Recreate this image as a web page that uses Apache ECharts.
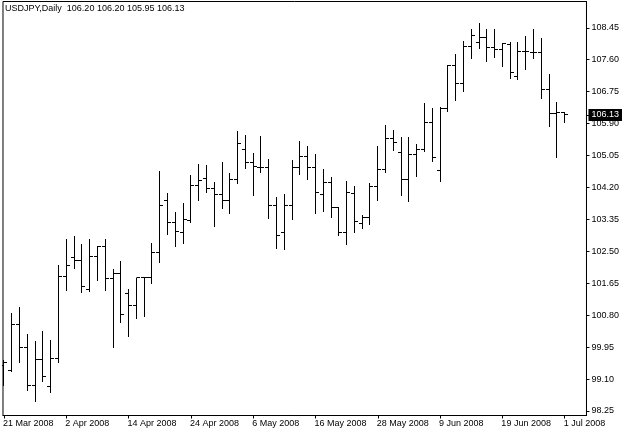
<!DOCTYPE html>
<html>
<head>
<meta charset="utf-8">
<script src="https://cdn.jsdelivr.net/npm/echarts@6/dist/echarts.min.js"></script>
<style>
html,body{margin:0;padding:0;background:#fff;}
#chart{width:625px;height:433px;}
</style>
</head>
<body>
<div id="chart"></div>
<script>
const symbolTitle = 'USDJPY,Daily';
const dates = [
 '21 Mar 2008','24 Mar 2008','25 Mar 2008','26 Mar 2008','27 Mar 2008','28 Mar 2008','31 Mar 2008',
 '1 Apr 2008','2 Apr 2008','3 Apr 2008','4 Apr 2008','7 Apr 2008','8 Apr 2008','9 Apr 2008','10 Apr 2008','11 Apr 2008',
 '14 Apr 2008','15 Apr 2008','16 Apr 2008','17 Apr 2008','18 Apr 2008','21 Apr 2008','22 Apr 2008','23 Apr 2008',
 '24 Apr 2008','25 Apr 2008','28 Apr 2008','29 Apr 2008','30 Apr 2008',
 '1 May 2008','2 May 2008','5 May 2008','6 May 2008','7 May 2008','8 May 2008','9 May 2008','12 May 2008','13 May 2008',
 '14 May 2008','15 May 2008','16 May 2008','19 May 2008','20 May 2008','21 May 2008','22 May 2008','23 May 2008',
 '26 May 2008','27 May 2008','28 May 2008','29 May 2008','30 May 2008',
 '2 Jun 2008','3 Jun 2008','4 Jun 2008','5 Jun 2008','6 Jun 2008','9 Jun 2008','10 Jun 2008','11 Jun 2008','12 Jun 2008',
 '13 Jun 2008','16 Jun 2008','17 Jun 2008','18 Jun 2008','19 Jun 2008','20 Jun 2008','23 Jun 2008','24 Jun 2008',
 '25 Jun 2008','26 Jun 2008','27 Jun 2008','30 Jun 2008','1 Jul 2008'
];
const opens = [
 99.45,99.32,100.54,99.95,98.93,99.61,98.90,99.65,101.82,102.34,
 102.25,101.49,102.37,102.64,101.78,101.91,101.38,101.06,101.80,101.80,
 102.46,103.85,103.26,102.99,103.31,104.24,104.44,104.16,104.00,103.85,
 104.40,105.21,104.86,104.72,104.72,103.71,103.01,103.71,104.74,105.02,
 104.74,104.00,104.33,103.67,103.01,104.03,103.24,103.40,104.22,104.68,
 105.49,105.13,104.42,105.08,105.20,105.93,104.66,106.29,107.44,106.97,
 107.94,108.06,108.19,107.93,107.86,108.00,107.16,107.83,107.80,107.80,
 106.81,106.16,106.20
];
const highs = [
 99.61,100.87,101.03,100.30,100.11,100.38,100.14,102.14,102.82,102.92,
 102.69,102.82,102.65,102.82,102.02,102.24,101.50,101.80,101.82,102.71,
 104.64,104.04,103.54,103.78,104.53,104.82,104.80,104.35,104.87,104.58,
 105.70,105.59,105.11,105.57,104.95,103.95,104.02,104.93,105.44,105.30,
 105.09,104.68,104.49,103.68,104.37,104.24,103.47,104.33,105.31,105.86,
 105.73,105.55,105.55,105.35,106.44,106.32,106.35,107.46,107.75,108.10,
 108.41,108.59,108.41,108.43,108.05,108.06,108.06,108.23,108.43,108.19,
 107.21,106.48,106.20
];
const lows = [
 98.94,99.32,99.56,98.81,98.51,99.06,98.76,99.55,101.47,102.05,
 101.43,101.45,101.74,101.47,99.96,100.61,100.25,100.73,100.79,101.65,
 102.22,102.96,102.64,102.73,103.27,103.87,104.09,103.18,103.66,103.51,
 104.31,104.71,104.00,104.62,103.38,102.58,102.55,103.35,104.55,104.42,
 103.51,103.58,103.42,102.93,102.69,103.02,103.11,103.24,103.87,104.60,
 105.21,104.00,103.84,104.51,105.17,104.91,104.38,106.23,106.54,106.77,
 107.64,107.92,107.57,107.68,107.43,107.12,107.10,107.35,107.64,106.59,
 105.84,105.00,105.95
];
const closes = [
 99.54,100.54,99.95,98.93,99.61,99.18,99.65,101.82,102.13,102.25,
 101.56,102.37,102.64,101.78,101.91,100.83,101.06,101.80,101.80,102.46,
 103.71,103.26,103.02,103.36,104.24,104.39,104.16,104.00,103.85,104.40,
 105.37,104.86,104.75,104.72,103.71,102.93,103.71,104.74,105.02,104.74,
 104.06,104.33,103.67,103.01,104.06,103.29,103.40,104.22,104.68,105.49,
 105.40,104.42,105.08,105.20,105.93,104.99,106.29,107.44,106.97,107.94,
 108.24,108.19,107.93,107.88,108.03,107.25,107.83,107.83,107.80,106.82,
 106.16,106.20,106.13
];
const xTickIndex = [0, 8, 16, 24, 32, 40, 48, 56, 64, 72];
const yTicks = [98.25, 99.10, 99.95, 100.80, 101.65, 102.50, 103.35, 104.20, 105.05, 105.90, 106.75, 107.60, 108.45];

const last = dates.length - 1;
const lastValues = [opens[last], highs[last], lows[last], closes[last]];
const font = 'Liberation Sans';

const data = dates.map((d, i) => [i, opens[i], highs[i], lows[i], closes[i]]);

const chart = echarts.init(document.getElementById('chart'), null, {renderer: 'canvas'});
chart.setOption({
  animation: false,
  backgroundColor: '#fff',
  title: {
    text: symbolTitle + '  ' + lastValues.map(v => v.toFixed(2)).join(' '),
    left: 5, top: 4, padding: 0,
    textStyle: {fontFamily: font, fontSize: 9, fontWeight: 'normal', color: '#000'}
  },
  grid: {
    left: 1.5, top: 1.5, right: 37.5, bottom: 17.5,
    show: true, borderColor: '#000', borderWidth: 1, backgroundColor: '#fff'
  },
  xAxis: {
    type: 'value', min: -0.13, max: 74.8,
    splitLine: {show: false},
    axisLine: {show: true, onZero: false, lineStyle: {color: '#000', width: 1}},
    axisTick: {show: true, length: 3, inside: false, customValues: xTickIndex, lineStyle: {color: '#000'}},
    axisLabel: {
      customValues: xTickIndex, align: 'left', margin: 4, padding: [0, 0, 0, -1],
      fontFamily: font, fontSize: 9, color: '#000',
      formatter: v => dates[Math.round(v)] || ''
    }
  },
  yAxis: [{
    type: 'value', position: 'right', min: 98.13, max: 109.15, scale: true,
    splitLine: {show: false},
    axisLine: {show: true, onZero: false, lineStyle: {color: '#000', width: 1}},
    axisTick: {show: true, length: 3, inside: false, customValues: yTicks, lineStyle: {color: '#000'}},
    axisLabel: {
      customValues: yTicks, margin: 5, fontFamily: font, fontSize: 9, color: '#000',
      formatter: v => v.toFixed(2)
    }
  }, {
    type: 'value', position: 'right', offset: 0, min: 98.13, max: 109.15, scale: true,
    splitLine: {show: false},
    axisLine: {show: false, onZero: false},
    axisTick: {show: true, length: 3, inside: false, customValues: [closes[last]], lineStyle: {color: '#000'}},
    axisLabel: {
      customValues: [closes[last]], margin: 2, fontFamily: font, fontSize: 9,
      color: '#fff', backgroundColor: '#000', padding: [2, 3, 1, 3],
      formatter: v => v.toFixed(2)
    }
  }],
  series: [{
    type: 'custom',
    clip: true,
    encode: {x: 0, y: [1, 2, 3, 4]},
    data: data,
    renderItem: function (params, api) {
      const i = api.value(0);
      const pO = api.coord([i, api.value(1)]);
      const pH = api.coord([i, api.value(2)]);
      const pL = api.coord([i, api.value(3)]);
      const pC = api.coord([i, api.value(4)]);
      const x = Math.round(pH[0] - 0.5) + 0.5;
      const sy = y => Math.round(y - 0.5) + 0.5;
      const st = {stroke: '#000', lineWidth: 1};
      return {
        type: 'group',
        children: [
          {type: 'line', shape: {x1: x, y1: Math.round(pH[1]), x2: x, y2: Math.round(pL[1]) + 1}, style: st},
          {type: 'line', shape: {x1: x - 3.5, y1: sy(pO[1]), x2: x, y2: sy(pO[1])}, style: st},
          {type: 'line', shape: {x1: x, y1: sy(pC[1]), x2: x + 3.5, y2: sy(pC[1])}, style: st}
        ]
      };
    }
  }]
});
</script>
</body>
</html>
